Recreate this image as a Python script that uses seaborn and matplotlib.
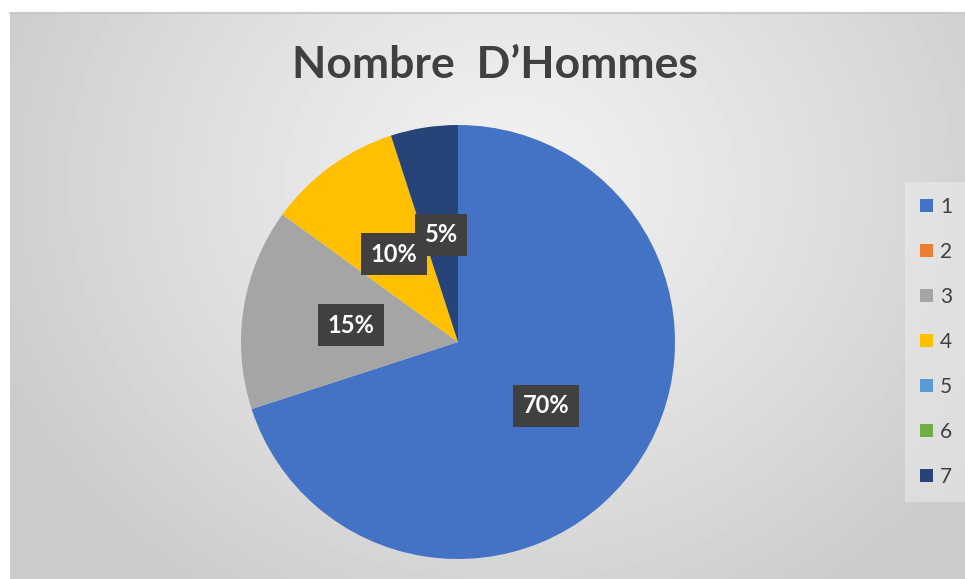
import numpy as np
import matplotlib
matplotlib.use("Agg")
import matplotlib.pyplot as plt
import seaborn as sns

# Data
categories = ["1", "2", "3", "4", "5", "6", "7"]
values = [70, 0, 15, 10, 0, 0, 5]
colors = ["#4472C4", "#ED7D31", "#A5A5A5", "#FFC000", "#5B9BD5", "#70AD47", "#264478"]
title = "Nombre  D\u2019Hommes"

sns.set_theme(style="white")
plt.rcParams["font.family"] = ["Lato", "DejaVu Sans"]

fig = plt.figure(figsize=(9.65, 5.79), dpi=100)
fig.patch.set_facecolor("white")

# Chart area background - radial grey gradient
bg = fig.add_axes([10 / 965, 0, 955 / 965, 566 / 579])
yy, xx = np.mgrid[0:566, 0:955]
dist = np.sqrt(((xx - 500) / 1.0) ** 2 + ((yy - 170) / 0.9) ** 2)
shade = 0.945 - 0.15 * np.clip(dist / 560, 0, 1) ** 1.2
bg.imshow(shade, cmap="gray", vmin=0, vmax=1, aspect="auto", interpolation="bilinear")
bg.set_axis_off()
fig.add_artist(plt.Line2D([10 / 965, 1], [566 / 579, 566 / 579], color="#c8c8c8", lw=1.5))

# Pie
ax = fig.add_axes([241 / 965, 20 / 579, 434 / 965, 434 / 579])
ax.set_facecolor("none")


def pct(p):
    return "" if p < 0.5 else "{:.0f}%".format(p)


wedges, texts, autotexts = ax.pie(values, colors=colors, startangle=90, counterclock=False,
                                  autopct=pct, pctdistance=0.5, radius=1,
                                  wedgeprops=dict(linewidth=0))
for t in autotexts:
    t.set_color("white")
    t.set_fontsize(17)
    t.set_fontweight("bold")
    t.set_bbox(dict(boxstyle="square,pad=0.4", facecolor="#404040", edgecolor="none"))
ax.set_xlim(-1, 1)
ax.set_ylim(-1, 1)
ax.set_aspect("equal")

# Title
fig.text(0.513, 0.888, title, ha="center", va="center", fontsize=32, fontweight="bold", color="#404040")

# Legend
leg = fig.legend(wedges, categories, loc="center left", bbox_to_anchor=(895 / 965, 237 / 579),
                 frameon=True, fontsize=15, labelspacing=1.2, handlelength=0.6, handleheight=0.6,
                 handletextpad=0.35, borderpad=0.7, fancybox=False)
leg.get_frame().set_facecolor("#eeeeee")
leg.get_frame().set_edgecolor("none")
leg.get_frame().set_alpha(0.5)
for t in leg.get_texts():
    t.set_color("#404040")

plt.savefig("out.png", dpi=100)
